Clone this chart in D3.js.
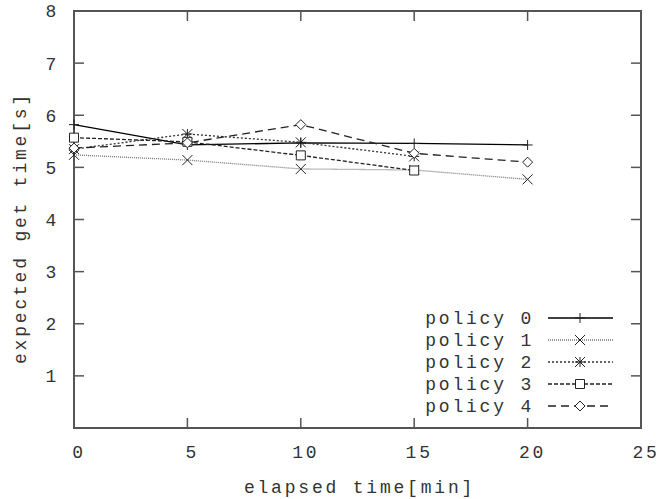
<!DOCTYPE html>
<html><head><meta charset="utf-8">
<script src="https://cdn.jsdelivr.net/npm/d3@7"></script>
<style>
html,body{margin:0;padding:0;background:#fff;}
text{font-family:"Liberation Mono","DejaVu Sans Mono",monospace;font-size:18px;fill:#333;letter-spacing:2.8px;}
</style></head>
<body><svg id="c" width="661" height="499"></svg>
<script>
const xValues = [0, 5, 10, 15, 20];
const seriesNames = ["policy 0", "policy 1", "policy 2", "policy 3", "policy 4"];
const policy0 = [5.82, 5.43, 5.47, 5.46, 5.43];
const policy1 = [5.24, 5.14, 4.97, 4.95, 4.77];
const policy2 = [5.35, 5.64, 5.48, 5.21];
const policy3 = [5.57, 5.49, 5.23, 4.94];
const policy4 = [5.37, 5.47, 5.82, 5.27, 5.10];
const xTicks = [0, 5, 10, 15, 20, 25];
const yTicks = [1, 2, 3, 4, 5, 6, 7, 8];
const yTickLabels = ["1", "2", "3", "4", "5", "6", "7", "8"];
const xTickLabels = ["0", "5", "10", "15", "20", "25"];

const series = [policy0, policy1, policy2, policy3, policy4];
const styles = [
  {dash: null, stroke: "#000", marker: "plus"},
  {dash: "1,1", stroke: "#777", marker: "cross"},
  {dash: "2,2", stroke: "#333", marker: "star"},
  {dash: "4,2", stroke: "#222", marker: "square"},
  {dash: "8,5", stroke: "#222", marker: "diamond"}
];

const svg = d3.select("#c");
const L = 74, R = 641, T = 11, B = 428;
const x = d3.scaleLinear().domain([0, 25]).range([L, R]);
const y = d3.scaleLinear().domain([0, 8]).range([B, T]);

const tl = 10;
const g = svg.append("g");
yTicks.forEach(v => {
  if (v === 8) return;
  g.append("line").attr("x1", L).attr("x2", L + tl).attr("y1", y(v)).attr("y2", y(v)).attr("stroke", "#555").attr("stroke-width", 1.5);
  g.append("line").attr("x1", R).attr("x2", R - tl).attr("y1", y(v)).attr("y2", y(v)).attr("stroke", "#555").attr("stroke-width", 1.5);
});
xTicks.forEach(v => {
  if (v === 0 || v === 25) return;
  g.append("line").attr("x1", x(v)).attr("x2", x(v)).attr("y1", B).attr("y2", B - tl).attr("stroke", "#555").attr("stroke-width", 1.5);
  g.append("line").attr("x1", x(v)).attr("x2", x(v)).attr("y1", T).attr("y2", T + tl).attr("stroke", "#555").attr("stroke-width", 1.5);
});
svg.append("rect").attr("x", L).attr("y", T).attr("width", R - L).attr("height", B - T)
  .attr("fill", "none").attr("stroke", "#555").attr("stroke-width", 2);

yTicks.forEach((v, i) => {
  svg.append("text").attr("x", 59).attr("y", y(v)).attr("dy", "0.36em").attr("text-anchor", "end").text(yTickLabels[i]);
});
xTicks.forEach((v, i) => {
  svg.append("text").attr("x", x(v) + 5).attr("y", B + 24).attr("dy", "0.36em").attr("text-anchor", "middle").text(xTickLabels[i]);
});
svg.append("text").attr("x", (L + R) / 2 + 2).attr("y", 487).attr("dy", "0.36em").attr("text-anchor", "middle").text("elapsed time[min]");
svg.append("text").attr("transform", "translate(20," + 228 + ") rotate(-90)").attr("dy", "0.36em").attr("text-anchor", "middle").text("expected get time[s]");

function marker(sel, type, cx, cy) {
  const s = 5;
  const p = d3.path();
  if (type === "plus" || type === "star") {
    p.moveTo(cx - s, cy); p.lineTo(cx + s, cy);
    p.moveTo(cx, cy - s); p.lineTo(cx, cy + s);
  }
  if (type === "cross" || type === "star") {
    p.moveTo(cx - s, cy - s); p.lineTo(cx + s, cy + s);
    p.moveTo(cx - s, cy + s); p.lineTo(cx + s, cy - s);
  }
  if (type === "square") {
    p.rect(cx - 4.5, cy - 4.5, 9, 9);
  }
  if (type === "diamond") {
    p.moveTo(cx, cy - s); p.lineTo(cx + s, cy); p.lineTo(cx, cy + s); p.lineTo(cx - s, cy); p.closePath();
  }
  sel.append("path").attr("d", p.toString()).attr("fill", type === "square" || type === "diamond" ? "#fff" : "none")
    .attr("stroke", "#222").attr("stroke-width", 1);
}

const line = d3.line().x((d, i) => x(xValues[i])).y(d => y(d));
series.forEach((vals, k) => {
  const st = styles[k];
  svg.append("path").datum(vals).attr("d", line).attr("fill", "none")
    .attr("stroke", st.stroke).attr("stroke-width", 1.3)
    .attr("stroke-dasharray", st.dash);
});
series.forEach((vals, k) => {
  vals.forEach((v, i) => marker(svg, styles[k].marker, x(xValues[i]), y(v)));
});

const lgY0 = 318, lgDy = 22;
seriesNames.forEach((name, k) => {
  const yy = lgY0 + k * lgDy;
  const st = styles[k];
  svg.append("text").attr("x", 534).attr("y", yy).attr("dy", "0.36em").attr("text-anchor", "end").text(name);
  svg.append("line").attr("x1", 548).attr("x2", 613).attr("y1", yy).attr("y2", yy)
    .attr("stroke", st.stroke).attr("stroke-width", 1.3).attr("stroke-dasharray", st.dash);
  marker(svg, st.marker, 580, yy);
});
</script></body></html>
